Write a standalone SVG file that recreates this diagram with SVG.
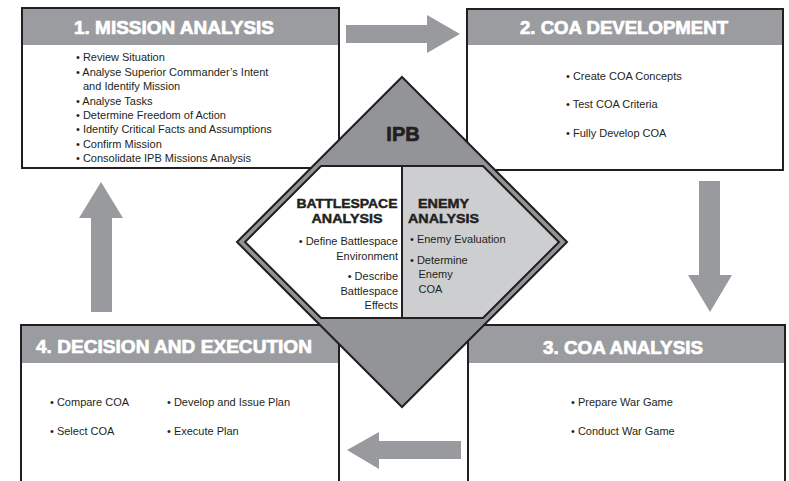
<svg xmlns="http://www.w3.org/2000/svg" width="789" height="481" viewBox="0 0 789 481">
<style>
  .frame { fill: none; stroke: #231f20; stroke-width: 2; }
  .body { fill: #ffffff; }
  .hdr { fill: #9b9c9f; }
  .title { font-family: "Liberation Sans", Arial, sans-serif; font-weight: bold; font-size: 18.5px; fill: #ffffff; stroke: #ffffff; stroke-width: 0.7; text-anchor: middle; }
  .txt { font-family: "Liberation Sans", Arial, sans-serif; font-size: 11px; fill: #231f20; }
  .end { text-anchor: end; }
  .sub { font-family: "Liberation Sans", Arial, sans-serif; font-weight: bold; font-size: 13px; fill: #231f20; stroke: #231f20; stroke-width: 0.45; text-anchor: middle; }
  .ipbt { font-family: "Liberation Sans", Arial, sans-serif; font-weight: bold; font-size: 20px; fill: #231f20; stroke: #231f20; stroke-width: 0.7; text-anchor: middle; }
  .arrow { fill: #999a9d; }
  .dline { stroke: #231f20; stroke-width: 2; stroke-linejoin: miter; }
</style>

<rect x="0" y="0" width="789" height="481" fill="#ffffff"/>

<g id="box1">
  <rect class="body" x="22" y="8" width="317" height="160"/>
  <rect class="hdr" x="22" y="8" width="317" height="37"/>
  <rect class="frame" x="22" y="8" width="317" height="160"/>
  <text class="title" x="174" y="34" textLength="200" lengthAdjust="spacingAndGlyphs">1. MISSION ANALYSIS</text>
  <text class="txt" x="76" y="61">• Review Situation</text>
  <text class="txt" x="76" y="76">• Analyse Superior Commander’s Intent</text>
  <text class="txt" x="83" y="90">and Identify Mission</text>
  <text class="txt" x="76" y="104.5">• Analyse Tasks</text>
  <text class="txt" x="76" y="119">• Determine Freedom of Action</text>
  <text class="txt" x="76" y="133">• Identify Critical Facts and Assumptions</text>
  <text class="txt" x="76" y="147.5">• Confirm Mission</text>
  <text class="txt" x="76" y="162">• Consolidate IPB Missions Analysis</text>
</g>

<g id="box2">
  <rect class="body" x="467" y="9" width="316" height="161"/>
  <rect class="hdr" x="467" y="9" width="316" height="36"/>
  <rect class="frame" x="467" y="9" width="316" height="161"/>
  <text class="title" x="624" y="34" textLength="208" lengthAdjust="spacingAndGlyphs">2. COA DEVELOPMENT</text>
  <text class="txt" x="566" y="80">• Create COA Concepts</text>
  <text class="txt" x="566" y="108">• Test COA Criteria</text>
  <text class="txt" x="566" y="137">• Fully Develop COA</text>
</g>

<g id="box3">
  <rect class="body" x="468" y="325" width="317" height="170"/>
  <rect class="hdr" x="468" y="325" width="317" height="38"/>
  <rect class="frame" x="468" y="325" width="317" height="170"/>
  <text class="title" x="623" y="354" textLength="160" lengthAdjust="spacingAndGlyphs">3. COA ANALYSIS</text>
  <text class="txt" x="571" y="406">• Prepare War Game</text>
  <text class="txt" x="571" y="435">• Conduct War Game</text>
</g>

<g id="box4">
  <rect class="body" x="21" y="325" width="318" height="170"/>
  <rect class="hdr" x="21" y="325" width="318" height="38"/>
  <rect class="frame" x="21" y="325" width="318" height="170"/>
  <text class="title" x="174" y="353" textLength="276" lengthAdjust="spacingAndGlyphs">4. DECISION AND EXECUTION</text>
  <text class="txt" x="50" y="406">• Compare COA</text>
  <text class="txt" x="50" y="435">• Select COA</text>
  <text class="txt" x="167" y="406">• Develop and Issue Plan</text>
  <text class="txt" x="167" y="435">• Execute Plan</text>
</g>

<g id="connectors">
  <polygon class="arrow" points="346,25 427,25 427,15 460,34 427,53 427,43 346,43"/>
  <polygon class="arrow" points="699,181 720,181 720,275 732,275 710,312 688,275 699,275"/>
  <polygon class="arrow" points="461,441 379,441 379,432 347,450 379,469 379,459 461,459"/>
  <polygon class="arrow" points="91,312 112,312 112,218 123,218 101,182 79,218 91,218"/>
</g>

<g id="ipb">
  <polygon points="402,77 567,242 402,407 237,242" fill="#939497" class="dline"/>
  <polygon points="321,166 402,166 402,318 321,318 245,242" fill="#ffffff"/>
  <polygon points="402,166 483,166 559,242 483,318 402,318" fill="#cdced0"/>
  <polygon points="321,166 483,166 559,242 483,318 321,318 245,242" fill="none" class="dline"/>
  <line x1="402" y1="166" x2="402" y2="318" class="dline" stroke-width="1.5"/>
  <text class="ipbt" x="403" y="141">IPB</text>
  <text class="sub" x="347" y="208" textLength="101" lengthAdjust="spacingAndGlyphs">BATTLESPACE</text>
  <text class="sub" x="347" y="223" textLength="71" lengthAdjust="spacingAndGlyphs">ANALYSIS</text>
  <text class="sub" x="443.5" y="208" textLength="51" lengthAdjust="spacingAndGlyphs">ENEMY</text>
  <text class="sub" x="443.5" y="223" textLength="71" lengthAdjust="spacingAndGlyphs">ANALYSIS</text>
  <text class="txt end" x="398" y="245">• Define Battlespace</text>
  <text class="txt end" x="398" y="260">Environment</text>
  <text class="txt end" x="398" y="280">• Describe</text>
  <text class="txt end" x="398" y="295">Battlespace</text>
  <text class="txt end" x="398" y="309">Effects</text>
  <text class="txt" x="410" y="243">• Enemy Evaluation</text>
  <text class="txt" x="410" y="264">• Determine</text>
  <text class="txt" x="418.5" y="278">Enemy</text>
  <text class="txt" x="418.5" y="293">COA</text>
</g>
</svg>
